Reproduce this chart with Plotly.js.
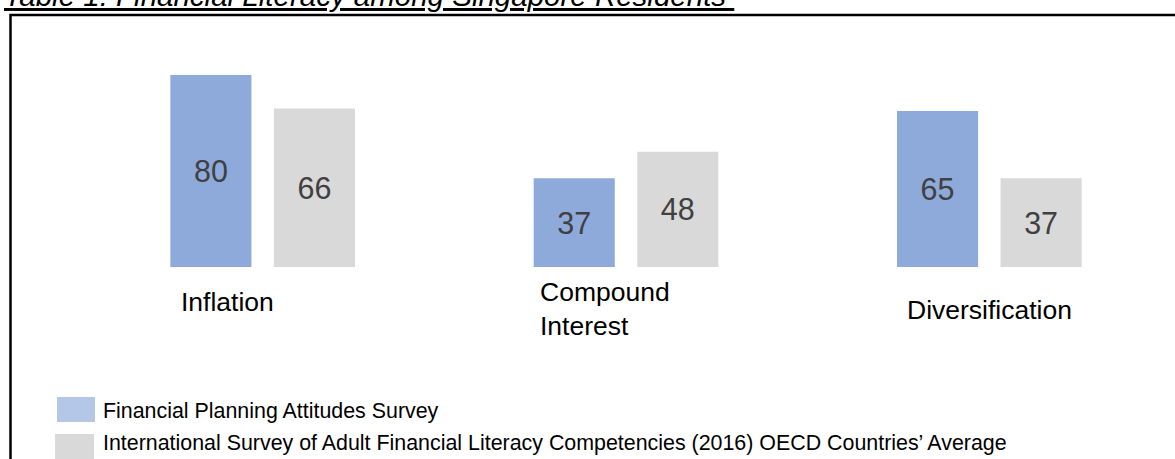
<!DOCTYPE html>
<html>
<head>
<meta charset="utf-8">
<script src="https://cdn.plot.ly/plotly-3.0.1.min.js"></script>
<style>html,body{margin:0;padding:0;background:#fff;}#chart{width:1175px;height:459px;}</style>
</head>
<body>
<div id="chart"></div>
<script>
// ---- data ----
const categories = ["Inflation", "Compound Interest", "Diversification"];
const categoryLabels = ["Inflation", "Compound<br>Interest", "Diversification"];
const seriesNames = [
  "Financial Planning Attitudes Survey",
  "International Survey of Adult Financial Literacy Competencies (2016) OECD Countries’ Average"
];
const fpasValues = [80, 37, 65];
const oecdValues = [66, 48, 37];
const titleText = "Table 1: Financial Literacy among Singapore Residents ";

// ---- layout helpers ----
const W = 1175, H = 459;
const M = {l: 81, r: 4, t: 27, b: 192};
const PW = W - M.l - M.r, PH = H - M.t - M.b;
const px = x => (x - M.l) / PW;
const py = y => 1 - (y - M.t) / PH;

const font = '"Liberation Sans", Arial, sans-serif';
const barBlue = '#8eaadb';
const barGray = '#d9d9d9';
const legBlue = '#b4c7e7';
const legGray = '#d9d9d9';

const traces = [
  {type: 'bar', name: seriesNames[0], x: categories, y: fpasValues,
   marker: {color: barBlue}, texttemplate: '%{y}', textposition: 'inside',
   insidetextanchor: 'middle', constraintext: 'none',
   textfont: {family: font, size: 30.5, color: '#404040'}, hoverinfo: 'skip'},
  {type: 'bar', name: seriesNames[1], x: categories, y: oecdValues,
   marker: {color: barGray}, texttemplate: '%{y}', textposition: 'inside',
   insidetextanchor: 'middle', constraintext: 'none',
   textfont: {family: font, size: 30.5, color: '#404040'}, hoverinfo: 'skip'}
];

const labelShift = [-84, -88, -84];
const labelY = [302, 309, 310];

const annotations = [];
categories.forEach((c, i) => {
  annotations.push({
    xref: 'x', yref: 'paper', x: c, y: py(labelY[i]), xanchor: 'left', yanchor: 'middle',
    xshift: labelShift[i], text: categoryLabels[i], showarrow: false, align: 'left',
    font: {family: font, size: 26.5, color: '#000'}
  });
});
// title
annotations.push({
  xref: 'paper', yref: 'paper', x: px(2), y: py(-5), xanchor: 'left', yanchor: 'middle',
  text: '<i><u>' + titleText + '</u></i>', showarrow: false,
  font: {family: font, size: 29.5, color: '#000'}
});
// legend text
const legRows = [411, 443];
seriesNames.forEach((n, i) => {
  annotations.push({
    xref: 'paper', yref: 'paper', x: px(101), y: py(legRows[i]), xanchor: 'left', yanchor: 'middle',
    text: n, showarrow: false, font: {family: font, size: 21.4, color: '#000'}
  });
});

const shapes = [
  // frame
  {type: 'path', xref: 'paper', yref: 'paper',
   path: `M ${px(1200)} ${py(15)} L ${px(10.5)} ${py(15)} L ${px(10.5)} ${py(480)}`,
   line: {color: '#000', width: 2.5}},
  // legend swatches
  {type: 'rect', xref: 'paper', yref: 'paper', x0: px(57), x1: px(95), y0: py(397), y1: py(422),
   fillcolor: legBlue, line: {width: 0}},
  {type: 'rect', xref: 'paper', yref: 'paper', x0: px(55), x1: px(94), y0: py(434), y1: py(470),
   fillcolor: legGray, line: {width: 0}}
];

const layout = {
  width: W, height: H, margin: M,
  paper_bgcolor: '#fff', plot_bgcolor: 'rgba(0,0,0,0)',
  barmode: 'group', bargap: 0.43, bargroupgap: 0.217,
  showlegend: false,
  xaxis: {type: 'category', range: [-0.5, 2.5], showticklabels: false, showgrid: false,
          zeroline: false, showline: false, ticks: '', fixedrange: true},
  yaxis: {range: [0, 100], showticklabels: false, showgrid: false, zeroline: false,
          showline: false, ticks: '', fixedrange: true},
  annotations: annotations,
  shapes: shapes,
  font: {family: font}
};

Plotly.newPlot('chart', traces, layout, {displayModeBar: false, staticPlot: true});
</script>
</body>
</html>
